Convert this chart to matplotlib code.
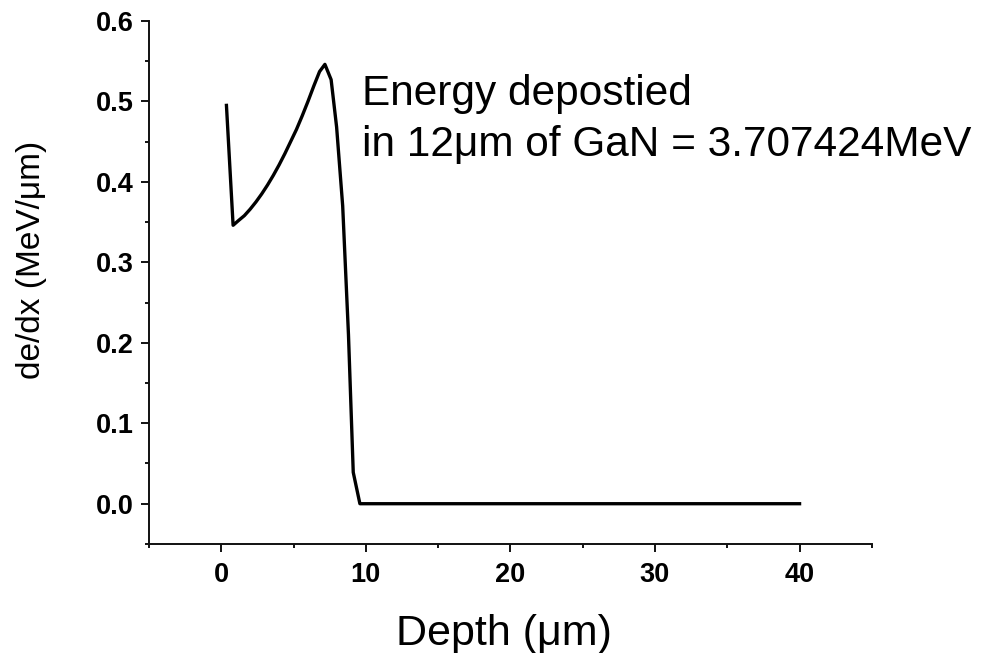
import matplotlib
matplotlib.use("Agg")
import matplotlib.pyplot as plt
from matplotlib.ticker import MultipleLocator

plt.rcParams['font.family'] = ['Liberation Sans', 'DejaVu Sans']

depth = [0.36, 0.82, 1.2, 1.6, 2.0, 2.4, 2.8, 3.2, 3.6, 4.0, 4.4, 4.8, 5.2, 5.6, 6.0, 6.4, 6.8,
         7.17, 7.6, 7.98, 8.4, 8.8, 9.13, 9.59, 15.0, 20.0, 25.0, 30.0, 35.0, 40.0]
dedx = [0.495, 0.346, 0.352, 0.358, 0.366, 0.375, 0.385, 0.396, 0.408, 0.421, 0.435, 0.450,
        0.465, 0.482, 0.500, 0.519, 0.537, 0.546, 0.527, 0.468, 0.37, 0.21, 0.039, 0.0,
        0.0, 0.0, 0.0, 0.0, 0.0, 0.0]

annotation_lines = ["Energy depostied", "in 12\u03bcm of GaN = 3.707424MeV"]

fig = plt.figure(figsize=(9.93, 6.53), dpi=100)
ax = fig.add_axes([0.150, 0.167, 0.728, 0.801])
ax.plot(depth, dedx, color='black', lw=2.4, solid_joinstyle='round')

ax.set_xlim(-5, 45)
ax.set_ylim(-0.05, 0.6)
ax.xaxis.set_minor_locator(MultipleLocator(5))
ax.yaxis.set_minor_locator(MultipleLocator(0.05))
ax.set_xticks([0, 10, 20, 30, 40])
ax.set_yticks([0.0, 0.1, 0.2, 0.3, 0.4, 0.5, 0.6])
ax.set_yticklabels(['0.0', '0.1', '0.2', '0.3', '0.4', '0.5', '0.6'])

for s in ['top', 'right']:
    ax.spines[s].set_visible(False)
for s in ['left', 'bottom']:
    ax.spines[s].set_linewidth(1.4)
    ax.spines[s].set_color('#111111')

ax.tick_params(which='major', direction='out', length=6, width=1.4, color='#111111', pad=5)
ax.tick_params(axis='x', which='major', pad=7)
ax.tick_params(which='minor', direction='out', length=3, width=1.4, color='#111111')
for lab in ax.get_xticklabels() + ax.get_yticklabels():
    lab.set_fontsize(19.5)
    lab.set_fontweight('bold')

ax.set_xlabel("Depth (\u03bcm)", fontsize=31)
ax.xaxis.label.set_va('baseline')
ax.xaxis.set_label_coords(0.491, -0.193)

ax.set_ylabel("de/dx (MeV/\u03bcm)", fontsize=24)
ax.yaxis.label.set_va('center')
ax.yaxis.set_label_coords(-0.162, 0.543)

ax.text(9.73, 0.495, annotation_lines[0], fontsize=30.5, ha='left', va='baseline')
ax.text(9.73, 0.432, annotation_lines[1], fontsize=30.5, ha='left', va='baseline')

fig.savefig("out.png", dpi=100)
